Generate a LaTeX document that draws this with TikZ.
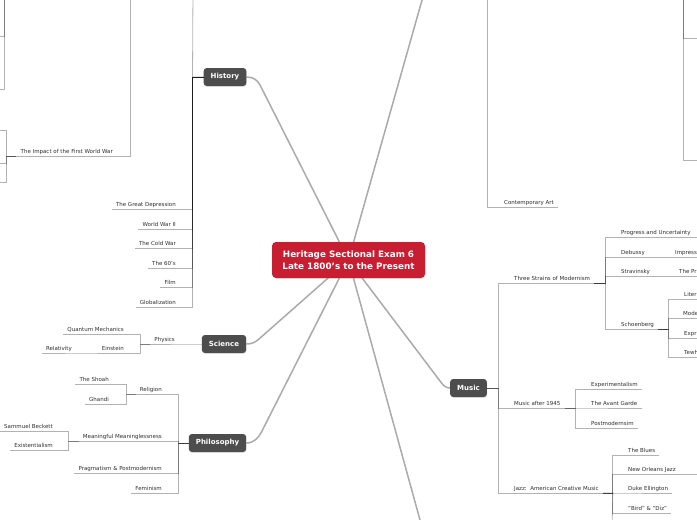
\documentclass[tikz,border=0pt]{standalone}
\usepackage{fontspec}
\setmainfont{DejaVu Sans}
\usetikzlibrary{backgrounds,shadows}

\definecolor{hubred}{RGB}{200,30,50}
\definecolor{topicgray}{RGB}{77,77,77}
\definecolor{leaftext}{RGB}{45,45,45}
\definecolor{limbgray}{RGB}{170,170,170}

\tikzset{
  hub/.style={fill=hubred, text=white, rounded corners=4pt, align=center,
    minimum width=153pt, minimum height=36pt, inner sep=0pt,
    drop shadow={opacity=0.18, shadow xshift=0.6pt, shadow yshift=-0.9pt},
    font=\bfseries\fontsize{8.8}{12.5}\selectfont},
  topic/.style={fill=topicgray, text=white, rounded corners=3pt,
    minimum height=18pt, inner xsep=7pt, inner ysep=0pt,
    drop shadow={opacity=0.18, shadow xshift=0.6pt, shadow yshift=-0.9pt},
    font=\bfseries\fontsize{7}{8}\selectfont},
  leaf/.style={text=leaftext, inner xsep=4pt, inner ysep=1.6pt,
    text height=4pt, text depth=1.2pt, font=\fontsize{5.5}{6}\selectfont},
  limb/.style={draw=limbgray, line width=1.5pt},
  twig/.style={draw=black, draw opacity=0.3, line width=0.8pt},
}

\begin{document}
\begin{tikzpicture}[x=1pt, y=-1pt]
\useasboundingbox (0,0) rectangle (697,520);

% centre and main topics
\node[hub] (heritage) at (348.5,260) {Heritage Sectional Exam 6\\Late 1800's to the Present};
\node[topic] (hist) at (225,77) {History};
\node[topic] (sci) at (224,344) {Science};
\node[topic] (phil) at (217.5,443) {Philosophy};
\node[topic] (music) at (468.5,388) {Music};
\coordinate (art) at (427.7,-20);
\coordinate (lit) at (425.5,540);

\begin{pgfonlayer}{background}
\draw[limb] (heritage.center) -- (art);
\draw[limb] (heritage.center) -- (lit);
\draw[limb] (heritage.center) -- (260,85) to[out=116.7, in=0] (hist.east);
\draw[limb] (heritage.center) -- (259,339) to[out=221.6, in=0] (sci.east);
\draw[limb] (heritage.center) -- (262,431) to[out=243.2, in=0] (phil.east);
\draw[limb] (heritage.center) -- (440,381) to[out=-52.8, in=180] (music.west);
\end{pgfonlayer}

% History
\node[leaf, anchor=south east] (gd) at (180,209) {The Great Depression};
\node[leaf, anchor=south east] (ww2) at (180,229) {World War II};
\node[leaf, anchor=south east] (cw) at (180,248) {The Cold War};
\node[leaf, anchor=south east] (sixties) at (180,268) {The 60's};
\node[leaf, anchor=south east] (film) at (180,287) {Film};
\node[leaf, anchor=south east] (glob) at (180,307) {Globalization};
\coordinate (hist-up) at (193,-10);
\foreach \c in {gd,ww2,cw,sixties,film,glob}
  \draw[twig] (hist.west) -- ++(-11,0) |- (\c.south west);
\draw[twig] (hist.west) -- ++(-11,0) -- (hist-up);

\node[leaf, anchor=south east] (impact) at (117,156) {The Impact of the First World War};
\coordinate (impact-up) at (130,-10);
\draw[twig] (impact-up) |- (impact.south west);
\coordinate (imp-a) at (-10,130);
\coordinate (imp-b) at (-10,163);
\coordinate (imp-c) at (-10,182);
\foreach \c in {imp-a,imp-b,imp-c}
  \draw[twig] (impact.south west) -- ++(-10,0) |- (\c);

\coordinate (tl-up) at (4,-10);
\coordinate (tl-a) at (-10,36);
\coordinate (tl-b) at (-10,89);
\foreach \c in {tl-a,tl-b}
  \draw[twig] (tl-up) |- (\c);

% Science
\node[leaf, anchor=south east] (physics) at (179,344) {Physics};
\node[leaf, anchor=south east] (qm) at (128,334) {Quantum Mechanics};
\node[leaf, anchor=south east] (einstein) at (128,353) {Einstein};
\node[leaf, anchor=south east] (relativity) at (76,353) {Relativity};
\draw[twig] (sci.west) -- ++(-11,0) |- (physics.south west);
\foreach \c in {qm,einstein}
  \draw[twig] (physics.south west) -- ++(-10,0) |- (\c.south west);
\draw[twig] (einstein.south west) -- ++(-10,0) |- (relativity.south west);

% Philosophy
\node[leaf, anchor=south east] (religion) at (166,394) {Religion};
\node[leaf, anchor=south east] (mm) at (166,441) {Meaningful Meaninglessness};
\node[leaf, anchor=south east] (pp) at (166,473) {Pragmatism \& Postmodernism};
\node[leaf, anchor=south east] (fem) at (166,493) {Feminism};
\foreach \c in {religion,mm,pp,fem}
  \draw[twig] (phil.west) -- ++(-10,0) |- (\c.south west);
\node[leaf, anchor=south east] (shoah) at (113,384) {The Shoah};
\node[leaf, anchor=south east] (ghandi) at (113,404) {Ghandi};
\foreach \c in {shoah,ghandi}
  \draw[twig] (religion.south west) -- ++(-9,0) |- (\c.south west);
\node[leaf, anchor=south east] (beckett) at (57,431) {Sammuel Beckett};
\node[leaf, anchor=south east] (exist) at (57,450) {Existentialism};
\foreach \c in {beckett,exist}
  \draw[twig] (mm.south west) -- ++(-10,0) |- (\c.south west);

% Art (topic above the page)
\node[leaf, anchor=south west] (contemp) at (500,207) {Contemporary Art};
\coordinate (art-up) at (487,-10);
\draw[twig] (art-up) |- (contemp.south east);
\coordinate (tr-up) at (683,-10);
\coordinate (tr-a) at (710,38);
\coordinate (tr-b) at (710,160);
\foreach \c in {tr-a,tr-b}
  \draw[twig] (tr-up) |- (\c);

% Music
\node[leaf, anchor=south west] (tsm) at (510,283) {Three Strains of Modernism};
\node[leaf, anchor=south west] (ma45) at (510,408) {Music after 1945};
\node[leaf, anchor=south west] (jazz) at (510,493) {Jazz:\ \ American Creative Music};
\foreach \c in {tsm,ma45,jazz}
  \draw[twig] (music.east) -- ++(11,0) |- (\c.south east);

\node[leaf, anchor=south west] (pu) at (617,237) {Progress and Uncertainty};
\node[leaf, anchor=south west] (debussy) at (617,257) {Debussy};
\node[leaf, anchor=south west] (strav) at (617,276) {Stravinsky};
\node[leaf, anchor=south west] (schoen) at (617,329) {Schoenberg};
\foreach \c in {pu,debussy,strav,schoen}
  \draw[twig] (tsm.south east) -- ++(11,0) |- (\c.south east);
\coordinate (pu-x) at (710,237);
\draw[twig] (pu.south east) -- (pu-x);
\node[leaf, anchor=south west] (impress) at (671,257) {Impress};
\draw[twig] (debussy.south east) -- (impress.south east);
\node[leaf, anchor=south west, inner xsep=1pt] (thepr) at (678,276) {The Pr};
\coordinate (thepr-x) at (710,276);
\draw[twig] (strav.south east) -- (thepr-x);
\node[leaf, anchor=south west] (liter) at (680,299) {Liter};
\node[leaf, anchor=south west, inner xsep=1pt] (mode) at (682,318) {Mode};
\node[leaf, anchor=south west] (expr) at (680,338) {Expr};
\node[leaf, anchor=south west] (tewh) at (680,357) {Tewh};
\coordinate (schoen-x) at (668,329);
\foreach \c in {liter,mode,expr,tewh}
  \draw[twig] (schoen.south east) -- (schoen-x) |- (\c.south east);

\node[leaf, anchor=south west] (exper) at (587,389) {Experimentalism};
\node[leaf, anchor=south west] (avant) at (587,408) {The Avant Garde};
\node[leaf, anchor=south west] (postm) at (587,428) {Postmodernsim};
\foreach \c in {exper,avant,postm}
  \draw[twig] (ma45.south east) -- ++(11,0) |- (\c.south east);

\node[leaf, anchor=south west] (blues) at (624,455) {The Blues};
\node[leaf, anchor=south west] (nola) at (624,474) {New Orleans Jazz};
\node[leaf, anchor=south west] (duke) at (624,493) {Duke Ellington};
\node[leaf, anchor=south west] (bird) at (624,513) {"Bird" \& "Diz"};
\coordinate (jazz-dn) at (612,530);
\foreach \c in {blues,nola,duke,bird}
  \draw[twig] (jazz.south east) -- ++(10,0) |- (\c.south east);
\draw[twig] (jazz.south east) -- ++(10,0) -- (jazz-dn);
\coordinate (nola-x) at (710,474);
\draw[twig] (nola.south east) -- (nola-x);
\end{tikzpicture}
\end{document}
